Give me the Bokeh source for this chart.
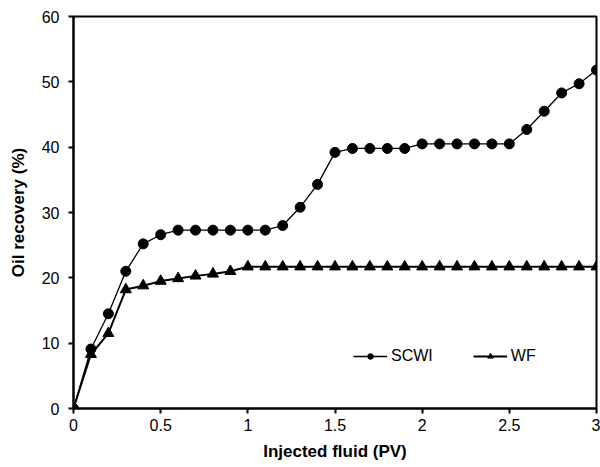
from bokeh.plotting import figure
from bokeh.models import Range1d, FixedTicker, NumeralTickFormatter, Legend, LegendItem
from bokeh.embed import file_html
from bokeh.resources import INLINE

x_scwi = [0, 0.1, 0.2, 0.3, 0.4, 0.5, 0.6, 0.7, 0.8, 0.9, 1.0, 1.1, 1.2, 1.3, 1.4, 1.5,
          1.6, 1.7, 1.8, 1.9, 2.0, 2.1, 2.2, 2.3, 2.4, 2.5, 2.6, 2.7, 2.8, 2.9, 3.0]
y_scwi = [0, 9.1, 14.5, 21.0, 25.2, 26.6, 27.3, 27.3, 27.3, 27.3, 27.3, 27.3, 28.0, 30.8, 34.3, 39.2,
          39.8, 39.8, 39.8, 39.8, 40.5, 40.5, 40.5, 40.5, 40.5, 40.5, 42.7, 45.5, 48.3, 49.7, 51.8]
x_wf = [0, 0.1, 0.2, 0.3, 0.4, 0.5, 0.6, 0.7, 0.8, 0.9, 1.0, 1.1, 1.2, 1.3, 1.4, 1.5,
        1.6, 1.7, 1.8, 1.9, 2.0, 2.1, 2.2, 2.3, 2.4, 2.5, 2.6, 2.7, 2.8, 2.9, 3.0]
y_wf = [0, 8.3, 11.5, 18.2, 18.8, 19.5, 19.9, 20.3, 20.6, 21.0, 21.7, 21.7, 21.7, 21.7, 21.7, 21.7,
        21.7, 21.7, 21.7, 21.7, 21.7, 21.7, 21.7, 21.7, 21.7, 21.7, 21.7, 21.7, 21.7, 21.7, 21.7]
x_ticks = [0, 0.5, 1, 1.5, 2, 2.5, 3]
y_ticks = [0, 10, 20, 30, 40, 50, 60]

FONT = "Liberation Sans"

p = figure(width=600, height=467, output_backend="svg", toolbar_location=None,
           x_range=Range1d(0, 3), y_range=Range1d(0, 60),
           min_border_left=73, min_border_right=4, min_border_top=16, min_border_bottom=59)
p.xgrid.visible = False
p.ygrid.visible = False
p.outline_line_color = "black"
p.outline_line_width = 2
p.outline_line_alpha = 1

for ax in (p.xaxis[0], p.yaxis[0]):
    ax.axis_line_width = 2
    ax.major_tick_line_width = 2
    ax.major_tick_in = 0
    ax.major_tick_out = 5
    ax.minor_tick_line_color = None
    ax.major_label_text_font = FONT
    ax.major_label_text_font_size = "16px"
    ax.major_label_text_color = "black"
    ax.axis_label_text_font = FONT
    ax.axis_label_text_font_style = "bold"
    ax.axis_label_text_font_size = "17px"
    ax.axis_label_text_color = "black"

p.xaxis.ticker = FixedTicker(ticks=x_ticks)
p.yaxis.ticker = FixedTicker(ticks=y_ticks)
p.xaxis.formatter = NumeralTickFormatter(format="0.[0]")
p.yaxis.formatter = NumeralTickFormatter(format="0")
p.xaxis.axis_label = "Injected fluid (PV)"
p.yaxis.axis_label = "Oil recovery (%)"
p.xaxis.major_label_standoff = 5
p.yaxis.major_label_standoff = 9
p.xaxis.axis_label_standoff = 8
p.yaxis.axis_label_standoff = 11

l1 = p.line(x_scwi, y_scwi, line_color="black", line_width=1.3)
s1 = p.scatter(x_scwi, y_scwi, marker="circle", size=10, fill_color="black", line_color="black")
l2 = p.line(x_wf, y_wf, line_color="black", line_width=2)
s2 = p.scatter(x_wf, y_wf, marker="triangle", size=11, fill_color="black", line_color="black")

legend = Legend(items=[LegendItem(label="SCWI", renderers=[l1, s1]),
                       LegendItem(label="WF", renderers=[l2, s2])],
                orientation="horizontal", location=(280, 43),
                glyph_width=34, glyph_height=14, label_standoff=4, spacing=40,
                padding=0, margin=0, border_line_alpha=0, background_fill_alpha=0,
                label_text_font=FONT, label_text_font_size="16px", label_text_color="black")
p.add_layout(legend)

open("out.html", "w").write(file_html(p, INLINE))
